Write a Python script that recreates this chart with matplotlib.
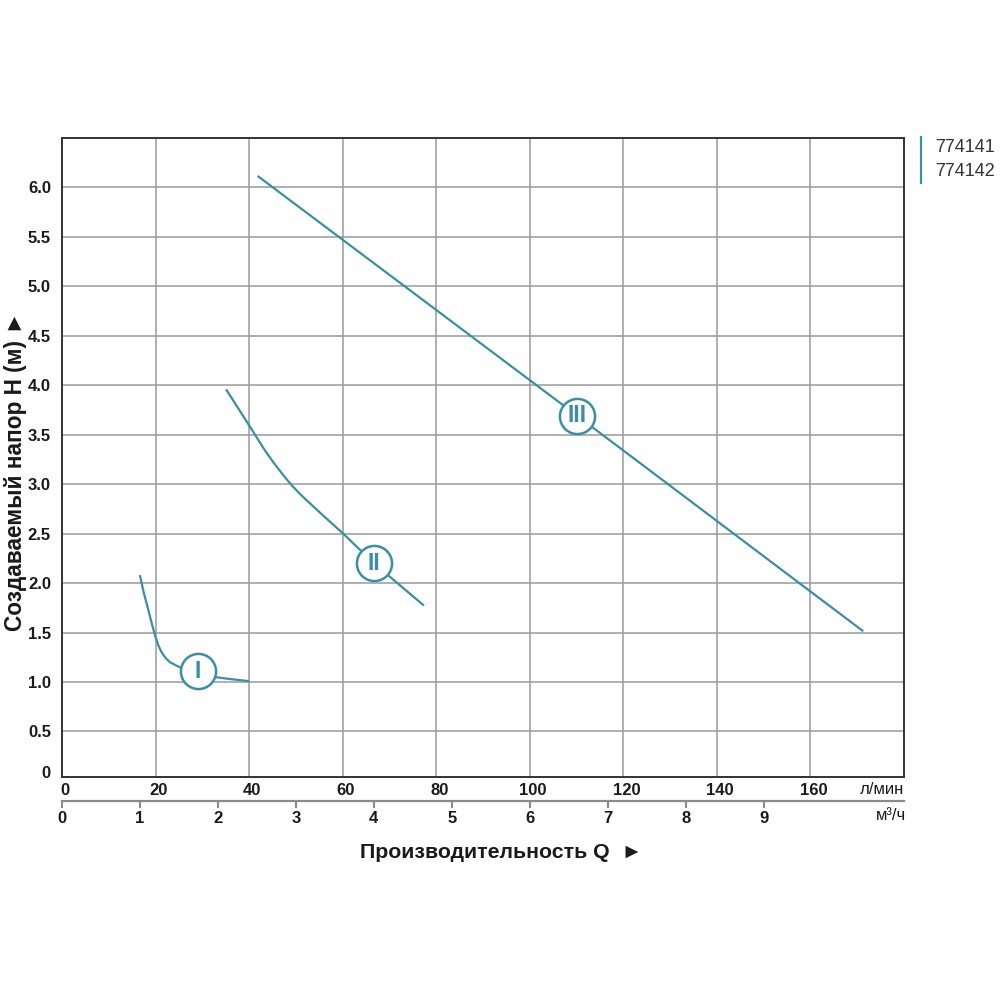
import numpy as np
import matplotlib.pyplot as plt
from matplotlib.transforms import ScaledTranslation

plt.rcParams['font.family'] = ['Liberation Sans', 'DejaVu Sans']

# curve data: flow Q (l/min) vs head H (m)
q_1 = [16.7, 17.5, 18.4, 19.2, 19.9, 20.6, 21.3, 22.2, 23.1, 24.3, 25.6, 27.3, 29.1, 32.7, 36.0, 39.8]
h_1 = [2.07, 1.90, 1.74, 1.59, 1.47, 1.37, 1.30, 1.24, 1.20, 1.17, 1.14, 1.12, 1.11, 1.05, 1.03, 1.01]
q_2 = [35.2, 37.5, 39.8, 41.6, 43.4, 45.2, 47.0, 48.2, 49.3, 50.6, 51.9, 55.9, 59.9, 66.7, 77.2]
h_2 = [3.95, 3.78, 3.61, 3.475, 3.34, 3.22, 3.11, 3.04, 2.98, 2.915, 2.855, 2.68, 2.51, 2.20, 1.78]
q_3 = [42.0, 110.2, 171.1]
h_3 = [6.11, 3.69, 1.52]

# circled labels on the curves
curve_labels = ['I', 'II', 'III']
label_q = [29.1, 66.7, 110.2]
label_h = [1.11, 2.20, 3.69]

lmin_ticks = [0, 20, 40, 60, 80, 100, 120, 140, 160]
m3h_ticks = [0, 1, 2, 3, 4, 5, 6, 7, 8, 9]
h_ticks = [0.5, 1.0, 1.5, 2.0, 2.5, 3.0, 3.5, 4.0, 4.5, 5.0, 5.5, 6.0]
legend_items = ['774141', '774142']

teal = '#3a8fa3'
dark = '#1a1a1a'

fig = plt.figure(figsize=(10, 10), dpi=100)
ax = fig.add_axes([0.062, 0.223, 0.842, 0.639])

y_bottom = 0.04
ax.set_xlim(0, 180)
ax.set_ylim(y_bottom, 6.5)

for q, h in [(q_1, h_1), (q_2, h_2), (q_3, h_3)]:
    ax.plot(q, h, color=teal, lw=1.6, zorder=3, solid_joinstyle='round')

ax.scatter(label_q, label_h, s=640, facecolor='white', edgecolor=teal,
           linewidth=1.8, zorder=4)
for txt, q, h in zip(curve_labels, label_q, label_h):
    ax.text(q, h, txt, color=teal, fontsize=16.5, fontweight='bold',
            ha='center', va='center', zorder=5)

# grid
for q in lmin_ticks[1:]:
    ax.axvline(q, color='#9a9a9a', lw=1.1, zorder=1)
for h in h_ticks:
    ax.axhline(h, color='#9a9a9a', lw=1.1, zorder=1)

for s in ax.spines.values():
    s.set_color('#333333')
    s.set_linewidth(1.4)

ax.set_yticks([y_bottom] + h_ticks)
ax.set_yticklabels(['0'] + [f'{v:.1f}' for v in h_ticks])
ax.set_xticks(lmin_ticks)
ax.set_xticklabels([str(v) for v in lmin_ticks])
ax.tick_params(axis='both', length=0, labelsize=12, colors=dark)
ax.tick_params(axis='y', pad=8)
ax.tick_params(axis='x', pad=4)
shift_right = ScaledTranslation(3 / 100, 0, fig.dpi_scale_trans)
for lab in ax.get_xticklabels():
    lab.set_fontweight('bold')
    lab.set_transform(lab.get_transform() + shift_right)
for lab in ax.get_yticklabels():
    lab.set_fontweight('bold')
ylabs = ax.get_yticklabels()
ylabs[0].set_transform(ylabs[0].get_transform() + ScaledTranslation(0, 5 / 100, fig.dpi_scale_trans))

ax.text(1.0, -0.02, 'л/мин', transform=ax.transAxes, ha='right', va='center',
        fontsize=12, color=dark)

# second flow scale in m3/h
sec = ax.secondary_xaxis(-0.0376, functions=(lambda q: q * 0.06, lambda m: m / 0.06))
sec.set_xticks(m3h_ticks)
sec.set_xticklabels([str(v) for v in m3h_ticks])
sec.spines['bottom'].set_color('#8a8a8a')
sec.spines['bottom'].set_linewidth(1.6)
sec.tick_params(axis='x', direction='out', length=5, width=1.5, color='#8a8a8a',
                labelsize=12, labelcolor=dark, pad=2)
for lab in sec.get_xticklabels():
    lab.set_fontweight('bold')
ax.text(1.003, -0.06, 'м³/ч', transform=ax.transAxes, ha='right', va='center',
        fontsize=12, color=dark)

fig.text(0.501, 0.147, 'Производительность Q  ►', ha='center', va='center',
         fontsize=15.3, fontweight='bold', color=dark)
fig.text(0.016, 0.529, 'Создаваемый напор H (м) ►', ha='center', va='center',
         rotation=90, fontsize=16.3, fontweight='bold', color=dark)

# legend at top right
fig.add_artist(plt.Line2D([0.921, 0.921], [1 - 0.137, 1 - 0.183], color=teal, lw=1.6))
for i, name in enumerate(legend_items):
    fig.text(0.935, 1 - 0.147 - i * 0.024, name, ha='left', va='center',
             fontsize=13, color='#333333')

fig.savefig('out.png', dpi=100, facecolor='white')
